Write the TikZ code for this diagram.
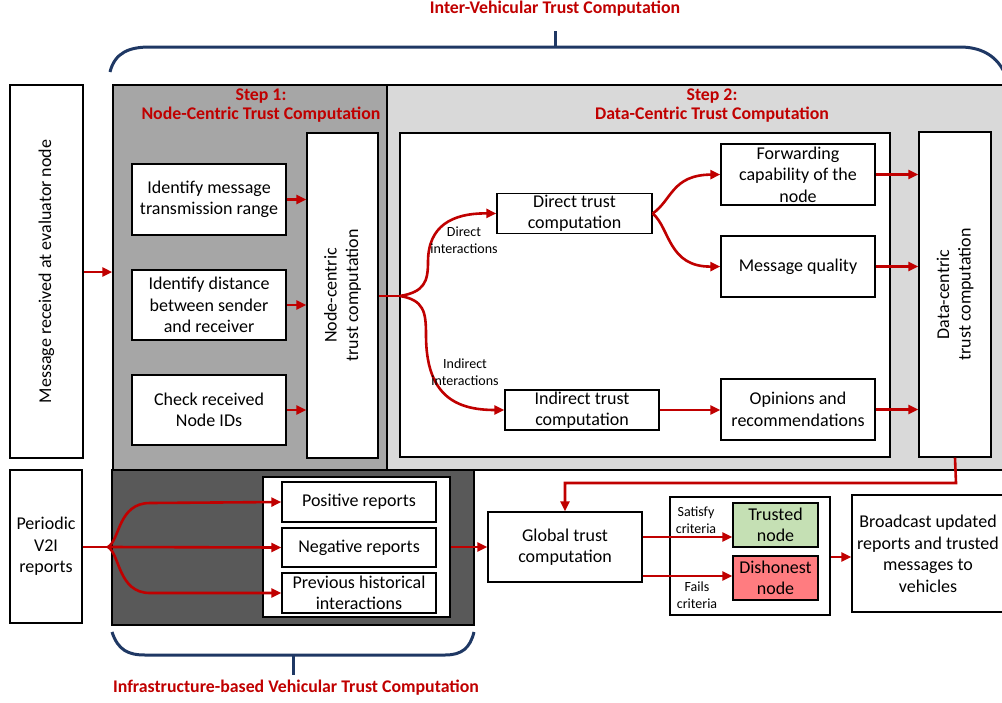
\documentclass[tikz,border=0pt]{standalone}
\usepackage{fontspec}
\setmainfont{Carlito}
\usetikzlibrary{arrows.meta}
\definecolor{redc}{HTML}{C00000}
\definecolor{navyc}{HTML}{1F3864}
\definecolor{panelA}{HTML}{A6A6A6}
\definecolor{panelB}{HTML}{D9D9D9}
\definecolor{panelC}{HTML}{595959}
\definecolor{greenc}{HTML}{C5E0B4}
\definecolor{pinkc}{HTML}{FF7C80}
\newcommand\fmain{\fontsize{18}{21.5}\selectfont}
\newcommand\fsmall{\fontsize{14}{16.5}\selectfont}
\newcommand\ftitle{\fontsize{17.8}{19.5}\selectfont\bfseries}
\tikzset{
  box/.style={draw=black, line width=1.4pt, fill=white, align=center, font=\fmain, inner sep=0pt},
  arr/.style={draw=redc, line width=2.6pt, -{Triangle[length=10pt,width=9pt]}},
  ln/.style={draw=redc, line width=2.6pt},
  brace/.style={draw=navyc, line width=3pt},
  ttl/.style={text=redc, font=\ftitle, align=center},
  lbl/.style={font=\fsmall, align=center},
}
\begin{document}
\begin{tikzpicture}[x=1pt,y=-1pt]
\useasboundingbox (0,0) rectangle (1002,702);
% titles
\node[ttl] (t1) at (555,9) {Inter-Vehicular Trust Computation};
\draw[brace] (110,72) .. controls (115,52) and (130,47) .. (150,47) -- (960,47) .. controls (980,47) and (995,55) .. (1003,70);
\coordinate (b1) at (555,47);
\coordinate (b1t) at (555,31);
\draw[brace] (b1) -- (b1t);
% panels
\fill[panelB] (387,85) rectangle (1003,470);
\draw[line width=1.5pt] (387,85) -- (1003,85);
\draw[line width=1.5pt] (387,470) -- (1003,470);
\node[draw=black, line width=1.5pt, fill=panelA, minimum width=274pt, minimum height=385pt, inner sep=0pt] (p1) at (250,277.5) {};
\node[ttl] (s1) at (261,105.5) {Step 1:\\Node-Centric Trust Computation};
\node[ttl] (s2) at (712,105.5) {Step 2:\\Data-Centric Trust Computation};
% left boxes
\node[box, minimum width=73pt, minimum height=373pt] (msg) at (46.5,271.5) {};
\node[font=\fmain, rotate=90] (msgt) at (msg.center) {Message received at evaluator node};
\node[box, minimum width=72pt, minimum height=153pt] (v2i) at (46,546.5) {Periodic\\V2I\\reports};
\draw[arr] (msg.east |- 0,272) -- (p1.west |- 0,272);
% step 1 boxes
\node[box, minimum width=154pt, minimum height=71pt] (a1) at (209,199.5) {Identify message\\transmission range};
\node[box, minimum width=154pt, minimum height=70pt] (a2) at (209,305) {Identify distance\\between sender\\and receiver};
\node[box, minimum width=154pt, minimum height=70pt] (a3) at (209,410) {Check received\\Node IDs};
\node[box, minimum width=71pt, minimum height=325pt] (nc) at (342.5,295.5) {};
\node[font=\fmain, rotate=90, align=center] (nct) at (nc.center) {Node-centric\\trust computation};
\draw[arr] (a1.east) -- (nc.west |- a1.east);
\draw[arr] (a2.east) -- (nc.west |- a2.east);
\draw[arr] (a3.east) -- (nc.west |- a3.east);
% step 2
\node[box, minimum width=490pt, minimum height=324pt] (w2) at (645,295) {};
\node[box, minimum width=155pt, minimum height=40pt] (dt) at (574.5,213.5) {Direct trust\\computation};
\node[box, minimum width=154pt, minimum height=40pt] (it) at (582,410) {Indirect trust\\computation};
\node[box, minimum width=154pt, minimum height=61pt] (fw) at (798,174.5) {Forwarding\\capability of the\\node};
\node[box, minimum width=154pt, minimum height=61pt] (mq) at (798,266.5) {Message quality};
\node[box, minimum width=154pt, minimum height=61pt] (op) at (798,409.5) {Opinions and\\recommendations};
\node[box, minimum width=72pt, minimum height=325pt] (dc) at (955,294.5) {};
\node[font=\fmain, rotate=90, align=center] (dct) at (dc.center) {Data-centric\\trust computation};
\coordinate (j1) at (400,296);
\draw[ln] (nc.east |- j1) -- (j1);
\draw[arr] (j1) .. controls (424,292) and (428,282) .. (428,262) .. controls (428,226) and (452,213) .. (dt.west);
\draw[arr] (j1) .. controls (424,300) and (426,312) .. (426,335) .. controls (426,395) and (455,410) .. (it.west);
\node[lbl] (l1) at (464,240) {Direct\\interactions};
\node[lbl] (l2) at (465,372) {Indirect\\interactions};
\draw[arr] (dt.east) .. controls (672,200) and (672,175) .. (fw.west);
\draw[arr] (dt.east) .. controls (670,228) and (668,267) .. (mq.west);
\draw[arr] (it.east) -- (op.west |- it.east);
\draw[arr] (fw.east) -- (dc.west |- fw.east);
\draw[arr] (mq.east) -- (dc.west |- mq.east);
\draw[arr] (op.east) -- (dc.west |- op.east);
% bottom
\node[draw=black, line width=1.5pt, fill=panelC, minimum width=362pt, minimum height=155pt, inner sep=0pt] (p3) at (293,547.5) {};
\node[box, minimum width=187pt, minimum height=140pt] (w3) at (356.5,547) {};
\node[box, minimum width=154pt, minimum height=40pt] (pr) at (359,502) {Positive reports};
\node[box, minimum width=154pt, minimum height=39pt] (nr) at (359,547.5) {Negative reports};
\node[box, minimum width=154pt, minimum height=40pt] (ph) at (359,593) {Previous historical\\interactions};
\coordinate (j2) at (108,547);
\draw[ln] (v2i.east |- j2) -- (j2);
\draw[arr] (j2) .. controls (120,540) and (118,503) .. (150,503) -- (pr.west);
\draw[arr] (j2) -- (nr.west);
\draw[arr] (j2) .. controls (120,554) and (118,593) .. (150,593) -- (ph.west);
\draw[brace] (112,632) .. controls (118,650) and (128,655) .. (145,655) -- (445,655) .. controls (462,655) and (470,648) .. (474,632);
\coordinate (b2) at (293,655);
\coordinate (b2t) at (293,675);
\draw[brace] (b2) -- (b2t);
\node[ttl] (t2) at (296,688) {Infrastructure-based Vehicular Trust Computation};
% global
\node[box, minimum width=154pt, minimum height=70pt] (gt) at (565,547) {Global trust\\computation};
\draw[arr] (w3.east |- 0,547) -- (gt.west |- 0,547);
\coordinate (c1) at (956,483);
\coordinate (c2) at (565,483);
\draw[arr] (dc.south) -- (c1) -- (c2) -- (gt.north);
\node[box, minimum width=160pt, minimum height=118pt] (cr) at (750,556) {};
\node[box, fill=greenc, minimum width=85pt, minimum height=44pt] (tn) at (775.5,525) {Trusted\\node};
\node[box, fill=pinkc, minimum width=85pt, minimum height=44pt] (dn) at (775.5,578) {Dishonest\\node};
\draw[arr] (gt.east |- 0,537) -- (tn.west |- 0,537);
\draw[arr] (gt.east |- 0,576) -- (dn.west |- 0,576);
\node[lbl] (l3) at (696,520) {Satisfy\\criteria};
\node[lbl] (l4) at (697,595) {Fails\\criteria};
\node[box, minimum width=156pt, minimum height=117pt] (bc) at (930,553.5) {};
\node[font=\fmain, align=center] (bct) at (928,554) {Broadcast updated\\reports and trusted\\messages to\\vehicles};
\draw[arr] (cr.east |- 0,557) -- (bc.west |- 0,557);
\end{tikzpicture}
\end{document}
